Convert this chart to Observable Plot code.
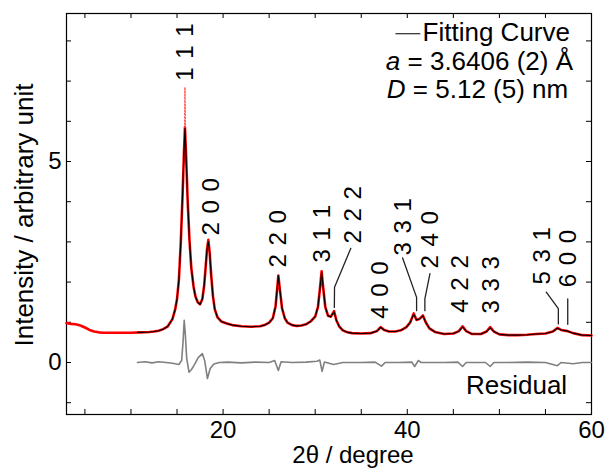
<!DOCTYPE html>
<html>
<head>
<meta charset="utf-8">
<script src="https://cdn.jsdelivr.net/npm/d3@7"></script>
<script src="https://cdn.jsdelivr.net/npm/@observablehq/plot@0.6"></script>
<style>
  html, body { margin: 0; padding: 0; background: white; }
</style>
</head>
<body>
<div id="chart"></div>
<script>
// ---- Observed pattern (2θ, intensity) ----
const obsTT = [3.0,3.5,4.0,4.5,5.0,5.5,6.0,6.5,7.0,8.0,9.0,10.0,11.0,12.0,12.5,13.0,13.5,14.0,14.5,14.8,15.0,15.2,15.4,15.6,15.75,15.86,16.0,16.15,16.35,16.55,16.8,17.0,17.25,17.5,17.75,17.95,18.1,18.25,18.4,18.55,18.7,18.9,19.1,19.4,19.8,20.4,21.0,22.0,23.0,24.0,24.5,25.0,25.4,25.7,25.9,26.0,26.15,26.4,26.7,27.0,27.5,28.0,28.5,29.0,29.5,30.0,30.3,30.5,30.7,30.85,31.1,31.4,31.7,32.05,32.3,32.6,33.0,33.5,34.0,35.0,36.0,36.7,37.1,37.5,38.0,38.7,39.3,39.9,40.3,40.7,41.0,41.3,41.7,42.0,42.4,43.0,44.0,45.0,45.6,46.0,46.4,47.0,48.0,48.6,49.0,49.4,50.0,51.0,52.0,53.0,54.0,55.0,55.8,56.3,56.7,57.4,58.0,59.0,60.0];
const obsI  = [0.98,0.96,0.95,0.92,0.87,0.81,0.77,0.75,0.74,0.74,0.74,0.74,0.75,0.76,0.77,0.79,0.83,0.9,1.08,1.32,1.58,2.05,2.95,4.15,5.2,5.85,5.05,4.05,3.05,2.35,1.88,1.64,1.5,1.45,1.58,1.92,2.35,2.8,3.05,2.72,2.2,1.65,1.32,1.12,1.02,0.97,0.93,0.90,0.89,0.90,0.93,0.99,1.1,1.4,1.9,2.16,1.85,1.35,1.1,0.99,0.93,0.91,0.92,0.95,1.02,1.14,1.38,1.8,2.27,1.9,1.38,1.16,1.14,1.28,1.05,0.9,0.8,0.75,0.73,0.72,0.73,0.78,0.88,0.81,0.77,0.77,0.8,0.88,0.99,1.22,1.06,1.08,1.17,1.0,0.85,0.76,0.71,0.72,0.78,0.9,0.78,0.71,0.71,0.77,0.88,0.77,0.7,0.68,0.68,0.69,0.71,0.72,0.77,0.86,0.81,0.78,0.73,0.68,0.67];
// sparse observed points above the fit at the 111 apex
const apexTT = [15.84,15.86,15.88,15.9];
const apexI  = [5.85,6.85,6.4,5.85];

// ---- Fitting curve ----
const fitTT = [10.7,11.0,12.0,12.5,13.0,13.5,14.0,14.5,14.8,15.0,15.2,15.4,15.6,15.75,15.86,16.0,16.15,16.35,16.55,16.8,17.0,17.25,17.5,17.75,17.95,18.1,18.25,18.4,18.55,18.7,18.9,19.1,19.4,19.8,20.4,21.0,22.0,23.0,24.0,24.5,25.0,25.4,25.7,25.9,26.0,26.15,26.4,26.7,27.0,27.5,28.0,28.5,29.0,29.5,30.0,30.3,30.5,30.7,30.85,31.1,31.4,31.7,32.05,32.3,32.6,33.0,33.5,34.0,35.0,36.0,36.7,37.1,37.5,38.0,38.7,39.3,39.9,40.3,40.7,41.0,41.3,41.7,42.0,42.4,43.0,44.0,45.0,45.6,46.0,46.4,47.0,48.0,48.6,49.0,49.4,50.0,51.0,52.0,53.0,54.0,55.0,55.8,56.3,56.7,57.4,58.0,59.0,60.0];
const fitI  = [0.75,0.75,0.76,0.77,0.79,0.83,0.9,1.08,1.32,1.58,2.05,2.95,4.15,5.2,5.82,5.05,4.05,3.05,2.35,1.88,1.64,1.5,1.44,1.58,1.92,2.35,2.8,3.01,2.72,2.2,1.65,1.32,1.12,1.02,0.97,0.93,0.90,0.89,0.90,0.93,0.99,1.1,1.4,1.9,2.16,1.85,1.35,1.1,0.99,0.93,0.91,0.92,0.95,1.02,1.14,1.38,1.8,2.25,1.9,1.38,1.16,1.14,1.26,1.05,0.9,0.8,0.75,0.73,0.72,0.73,0.78,0.87,0.81,0.77,0.77,0.8,0.88,0.99,1.2,1.06,1.08,1.16,1.0,0.85,0.76,0.71,0.72,0.78,0.88,0.78,0.71,0.71,0.77,0.86,0.77,0.7,0.68,0.68,0.69,0.71,0.72,0.77,0.85,0.81,0.78,0.73,0.68,0.67];

// ---- Residual ----
const resTT = [10.7,11.5,12.3,13.0,13.8,14.5,15.2,15.5,15.65,15.78,15.9,16.05,16.3,16.55,16.85,17.3,17.75,18.0,18.3,18.6,19.0,19.6,20.5,22.0,23.5,25.0,25.6,26.0,26.3,27.5,29.0,30.2,30.5,30.75,31.0,32.0,33.0,35.0,36.5,37.2,37.6,39.0,40.5,40.8,41.2,41.5,42.5,44.0,45.5,46.0,46.4,48.5,49.0,49.4,51.0,53.0,55.0,56.3,56.7,58.0,59.0,60.0];
const resI  = [0.0,0.02,-0.01,0.02,0.0,-0.02,-0.05,0.05,0.5,1.05,0.7,0.1,-0.24,-0.18,-0.07,0.12,0.22,0.05,-0.4,-0.15,-0.04,0.0,0.01,-0.01,0.01,0.0,0.05,-0.2,0.02,0.0,0.01,0.03,0.06,-0.22,0.01,-0.05,0.0,0.0,0.01,-0.09,0.0,0.0,0.01,-0.1,0.05,0.0,0.0,0.0,0.01,-0.1,0.0,0.0,-0.1,0.0,0.0,0.01,0.0,-0.08,0.0,-0.03,0.0,0.0];

// ---- Miller index labels ----
const hklText = ["1 1 1","2 0 0","2 2 0","3 1 1","2 2 2","4 0 0","3 3 1","2 4 0","4 2 2","3 3 3","5 3 1","6 0 0"];
const hklTT   = [15.93,18.74,26.04,30.79,34.14,37.02,39.58,42.46,45.72,49.09,54.71,57.51];
const hklI    = [7.01,3.16,2.36,2.49,2.96,1.09,2.66,2.34,1.24,1.22,1.94,1.87];

// ---- Leader lines from labels to peaks ----
const leaderId = ["222","222","222","331","331","331","240","240","240","531","531","531","600","600"];
const leaderTT = [33.87,32.10,32.08, 39.49,41.01,41.01, 42.46,41.91,41.91, 55.09,56.40,56.40, 57.42,57.42];
const leaderI  = [2.84,1.87,1.37, 2.60,1.62,1.29, 2.21,1.58,1.29, 1.75,1.34,0.96, 1.58,0.95];

// ---- Legend / annotations ----
const legendText = ["Fitting Curve","a = 3.6406 (2) Å","D = 5.12 (5) nm","Residual"];
const legendTT   = [41.66,37.67,37.78,46.37];
const legendI    = [8.2,7.48,6.79,-0.587];
const legendLineTT = [38.76,41.37];
const legendLineI  = [8.18,8.18];

// ---- Axes ----
const xTickLabels = [20,40,60];
const yTickLabels = [0,5];
const xTicks = [5,10,15,20,25,30,35,40,45,50,55];
const yTicks = [-1,0,1,2,3,4,5,6,7,8];

const W = 608, H = 472, mL = 66, mR = 17, mT = 13, mB = 58;
const fw = W - mL - mR, fh = H - mT - mB;
const font = "'Liberation Sans', Arial, sans-serif";

const chart = Plot.plot({
  width: W, height: H,
  marginLeft: mL, marginRight: mR, marginTop: mT, marginBottom: mB,
  style: {fontFamily: font, fontSize: "24px", background: "white", color: "black"},
  x: {domain: [3, 60]},
  y: {domain: [-1.294, 8.682]},
  marks: [
    // inward ticks
    Plot.ruleX(xTicks, {x: d => d, insetTop: fh - 5, stroke: "black"}),
    Plot.ruleX(xTicks, {x: d => d, insetBottom: fh - 5, stroke: "black"}),
    Plot.ruleY(yTicks, {y: d => d, insetRight: fw - 5, stroke: "black"}),
    Plot.ruleY(yTicks, {y: d => d, insetLeft: fw - 5, stroke: "black"}),
    Plot.frame({stroke: "black", strokeWidth: 1.2}),
    Plot.axisX(xTickLabels, {tickSize: 0, tickPadding: 6, fontSize: 24, label: null}),
    Plot.axisY(yTickLabels, {tickSize: 0, tickPadding: 5, fontSize: 24, label: null}),
    // data
    Plot.line(obsTT, {x: obsTT, y: obsI, stroke: "#ff0000", strokeWidth: 2.6}),
    Plot.line(apexTT, {x: apexTT, y: apexI, stroke: "#ff3030", strokeWidth: 1.2, strokeDasharray: "1.2,2"}),
    Plot.line(fitTT, {x: fitTT, y: fitI, stroke: "black", strokeWidth: 1.1}),
    Plot.line(resTT, {x: resTT, y: resI, stroke: "#808080", strokeWidth: 1.6}),
    Plot.line(leaderTT, {x: leaderTT, y: leaderI, z: leaderId, stroke: "#222", strokeWidth: 1.3}),
    Plot.text(hklText, {x: hklTT, y: hklI, text: d => d, rotate: -90, textAnchor: "start", fontSize: 24}),
    // legend
    Plot.line(legendLineTT, {x: legendLineTT, y: legendLineI, stroke: "black", strokeWidth: 1.1}),
    Plot.text(legendText, {x: legendTT, y: legendI, text: d => d, textAnchor: "start", fontSize: 26}),
    // axis titles
    Plot.text(["Intensity / arbitrary unit"], {frameAnchor: "left", rotate: -90, dx: -42, dy: 1, textAnchor: "middle", lineAnchor: "middle", fontSize: 26}),
    Plot.text(["2θ / degree"], {frameAnchor: "bottom", dx: 24, dy: 41, textAnchor: "middle", lineAnchor: "middle", fontSize: 24})
  ]
});

d3.select(chart).selectAll("text").each(function() {
  const t = this.textContent;
  if (t.startsWith("a = ") || t.startsWith("D = ")) {
    const sel = d3.select(this);
    sel.text(null);
    sel.append("tspan").attr("font-style", "italic").text(t[0]);
    sel.append("tspan").text(t.slice(1));
  }
  if (/^\d \d \d$/.test(t)) d3.select(this).attr("letter-spacing", "1px");
});

document.getElementById("chart").appendChild(chart);
</script>
</body>
</html>
